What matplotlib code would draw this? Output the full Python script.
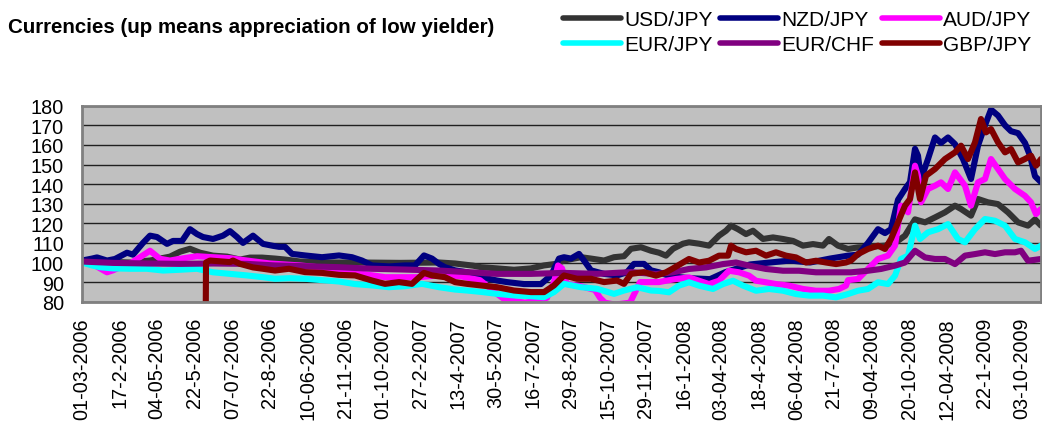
import numpy as np
import matplotlib
matplotlib.use("Agg")
import matplotlib.pyplot as plt

plt.rcParams['font.family'] = ['Liberation Sans', 'DejaVu Sans']

# ---- data (x = trading-day index from 03-Jan-2006) ----
tick_labels = ["01-03-2006", "17-2-2006", "04-05-2006", "22-5-2006", "07-07-2006",
               "22-8-2006", "10-06-2006", "21-11-2006", "01-10-2007", "27-2-2007",
               "13-4-2007", "30-5-2007", "16-7-2007", "29-8-2007", "15-10-2007",
               "29-11-2007", "16-1-2008", "03-04-2008", "18-4-2008", "06-04-2008",
               "21-7-2008", "09-04-2008", "20-10-2008", "12-04-2008", "22-1-2009",
               "03-10-2009"]

usd_day = [0, 18, 48, 68, 88, 98, 108, 118, 131, 145, 158, 168, 180, 193, 203, 218, 248, 278, 318,
           357, 373, 391, 399, 415, 432, 449, 462, 474, 482, 499, 509, 522, 532, 542, 549, 559, 569,
           577, 584, 591, 601, 607, 617, 627, 637, 644, 649, 656, 664, 671, 681, 691, 701, 711, 721,
           731, 741, 747, 756, 766, 776, 788, 803, 813, 823, 833, 843, 853, 863, 873, 879, 889, 896,
           906, 916, 926, 936, 946, 953, 959]
usd_val = [100, 100.5, 100, 101, 103, 105.5, 107, 105, 103.5, 103, 101.5, 102.5, 102.5, 102, 101.5,
           100.5, 100, 100, 99.8, 100, 99.5, 98.4, 97.6, 97, 96.3, 97, 98.5, 99.3, 101, 102.7, 102,
           101, 102.7, 103.2, 107, 107.8, 106, 105, 103.5, 107, 109.6, 110.3, 109.6, 108.6, 113.7,
           116.2, 118.8, 117, 114.5, 116.2, 112, 112.8, 112, 111, 108.6, 109.4, 108.6, 112, 108.6,
           106.9, 107.7, 108, 108.6, 110, 113.7, 122, 120.5, 123, 125.6, 129, 127.3, 123.9, 132.4,
           130.7, 129.8, 125.6, 120.5, 118.8, 122, 118.8]

nzd_day = [0, 10, 15, 25, 33, 45, 51, 61, 68, 75, 85, 91, 100, 108, 115, 121, 131, 141, 148, 155,
           161, 171, 181, 191, 197, 203, 210, 223, 240, 257, 270, 280, 290, 307, 323, 333, 342, 350,
           357, 363, 373, 385, 399, 415, 425, 442, 459, 469, 477, 482, 489, 497, 502, 509, 522, 535,
           545, 552, 562, 569, 577, 588, 608, 628, 643, 668, 688, 708, 728, 748, 766, 776, 786, 796,
           803, 809, 816, 823, 828, 833, 836, 839, 846, 853, 859, 866, 873, 881, 889, 896, 903, 909,
           916, 923, 929, 936, 943, 948, 953, 959]
nzd_val = [101, 102, 102.6, 101, 101.8, 105, 104, 110, 113.7, 113, 109.5, 111, 111, 117, 114.5, 113,
           112, 113.7, 116, 113, 110, 113.7, 109.5, 108.5, 108, 108, 104.4, 103.6, 102.7, 103.6,
           102.7, 101, 98.5, 98, 98.5, 98.5, 103.6, 102, 99.3, 97.6, 96, 95, 92.5, 90.8, 90, 89, 89,
           93.4, 102, 102.7, 102, 104.4, 101, 96, 94.2, 93.4, 95, 99.3, 99.3, 96, 95, 93, 92, 91.5,
           95, 99, 100, 101, 100, 102, 103.5, 104, 110, 117, 115, 117, 132, 137.5, 141, 158, 154.5,
           142.6, 152.8, 163.8, 161, 163.8, 160.4, 152.8, 142.6, 159.6, 170, 178, 175, 170, 167,
           166, 161, 154.5, 144, 141]

aud_day = [0, 10, 18, 25, 31, 38, 48, 58, 68, 78, 88, 98, 115, 131, 148, 165, 188, 218, 248, 280,
           303, 337, 358, 378, 398, 415, 423, 443, 455, 465, 472, 476, 480, 485, 498, 513, 518, 523,
           533, 548, 558, 577, 584, 594, 607, 617, 627, 637, 647, 657, 667, 674, 684, 694, 707, 721,
           734, 747, 757, 764, 766, 776, 786, 796, 806, 813, 819, 826, 833, 836, 839, 846, 853, 859,
           866, 873, 883, 889, 896, 903, 909, 916, 923, 933, 943, 949, 954, 959]
aud_val = [100, 99.5, 97, 95, 96, 97.6, 99.5, 102.7, 106, 101.9, 101, 101.9, 103.2, 102.7, 102.2,
           101, 99.5, 98.5, 97, 94.2, 92.5, 92.5, 93.5, 93, 91, 84, 81, 79.5, 80.5, 82, 90, 98.5, 97,
           89, 88, 86, 82, 79.5, 78.5, 79.5, 90, 90, 90.7, 91.6, 92.4, 90.7, 89, 90.7, 95.8, 95, 93.3,
           90.7, 89.9, 89, 88.2, 86.5, 85.6, 85.6, 86.5, 88.2, 91, 91.6, 96.7, 101.8, 103.5, 108.6,
           129, 125.6, 149.4, 144.3, 130.7, 137.5, 139.2, 140.9, 137.5, 146, 139.2, 129, 140.9,
           142.6, 152.8, 147.7, 142.6, 137.5, 134, 130.7, 124.7, 127.3]

eurjpy_day = [0, 10, 18, 31, 48, 65, 81, 98, 115, 131, 148, 165, 181, 193, 208, 223, 240, 257, 273,
              290, 307, 323, 340, 357, 373, 385, 399, 415, 432, 449, 462, 472, 482, 499, 515, 532,
              542, 555, 569, 577, 587, 597, 607, 617, 631, 641, 651, 661, 674, 687, 701, 714, 727,
              741, 754, 766, 776, 786, 796, 806, 813, 819, 826, 833, 838, 846, 856, 866, 876, 883,
              893, 903, 913, 923, 933, 943, 953, 959]
eurjpy_val = [100, 98.5, 97.6, 97, 96.8, 96.8, 95.9, 96.3, 96.8, 95, 94.2, 93.4, 92.5, 91.7, 92,
              91.7, 91, 90.3, 89, 88.3, 87.4, 87.9, 89.1, 87.4, 86.2, 85.7, 85, 84, 83.2, 82.8, 82.3,
              84.9, 89.1, 87.4, 86.6, 84, 85.7, 87.4, 85.7, 85.5, 84.8, 88.2, 89.9, 88.2, 86.5, 89,
              90.7, 88.2, 85.6, 86.5, 85.6, 83.9, 83.1, 83.1, 82.2, 83.9, 85.6, 86.5, 89.9, 89, 93.3,
              101.8, 103.5, 118.8, 112, 115.4, 117, 119.6, 112, 110.3, 117, 122.2, 121.3, 118.8, 112,
              110.3, 106.9, 108.6]

eurchf_day = [0, 31, 65, 98, 131, 165, 193, 223, 257, 290, 323, 357, 385, 415, 449, 482, 515, 549,
              574, 591, 607, 624, 641, 654, 667, 684, 701, 717, 734, 751, 769, 786, 799, 813, 823,
              833, 843, 853, 863, 873, 883, 893, 903, 913, 923, 933, 939, 946, 959]
eurchf_val = [100.5, 99.8, 99.5, 99.3, 99.5, 99.3, 98.5, 98.1, 97.6, 96.8, 96.4, 95.9, 95.1, 94.2,
              94.2, 94.7, 94.2, 95.1, 94.1, 95, 96.7, 97.5, 99.2, 100, 98.4, 96.7, 95.8, 95.8, 95, 95,
              95, 95.8, 96.7, 98.4, 100, 106, 102.6, 101.8, 101.8, 99.2, 103.5, 104.3, 105.2, 104.3,
              105.2, 105.2, 106, 100.9, 101.8]

gbp_day = [0, 123, 124, 128, 148, 151, 158, 171, 181, 193, 207, 223, 240, 257, 273, 290, 303, 317,
           330, 342, 350, 363, 373, 385, 399, 415, 432, 449, 462, 472, 482, 495, 509, 522, 535, 542,
           549, 562, 574, 584, 591, 601, 607, 617, 627, 637, 646, 649, 654, 664, 674, 684, 694, 704,
           714, 724, 734, 744, 754, 764, 769, 776, 786, 796, 803, 809, 816, 823, 828, 833, 838, 844,
           853, 863, 873, 879, 886, 893, 899, 904, 909, 916, 923, 929, 936, 943, 949, 954, 959]
gbp_val = [0, 0, 100, 101, 100.2, 101, 99.3, 97.5, 96.8, 95.9, 96.8, 95.1, 94.7, 93.7, 93.4, 90.8,
           89.1, 90, 89.1, 94.7, 93.4, 92.5, 90, 89.1, 88.3, 87.4, 85.7, 84.9, 84.9, 88.3, 93.4,
           91.7, 91.7, 90, 90.8, 89.1, 94.2, 95.1, 93.3, 95, 97, 100, 101.8, 100, 100.9, 103.5,
           103.5, 108.6, 106.9, 105.2, 106, 103.5, 105.2, 103.5, 102.6, 100, 100.9, 100, 99.2, 100,
           101, 104.3, 106.9, 108.6, 106.9, 112, 120.5, 129, 132.4, 146, 132.4, 144.3, 147.7, 152.8,
           156.2, 159.6, 152.8, 161.3, 173.2, 166.4, 168.1, 161.3, 156.2, 157.9, 151.1, 152.8,
           154.5, 149.4, 152.8]

series = [
    ("USD/JPY", usd_day, usd_val, "#333333"),
    ("NZD/JPY", nzd_day, nzd_val, "#000080"),
    ("AUD/JPY", aud_day, aud_val, "#FF00FF"),
    ("EUR/JPY", eurjpy_day, eurjpy_val, "#00FFFF"),
    ("EUR/CHF", eurchf_day, eurchf_val, "#800080"),
    ("GBP/JPY", gbp_day, gbp_val, "#800000"),
]

W, H = 1042, 427
fig = plt.figure(figsize=(W / 100, H / 100), dpi=100)
ax = fig.add_axes([82 / W, 1 - 302.7 / H, 959 / W, 196 / H])
ax.set_facecolor("#C0C0C0")

handles = {}
for name, d, v, c in series:
    ln, = ax.plot(d, v, color=c, lw=4.4, solid_joinstyle="round", solid_capstyle="round",
                  label=name)
    handles[name] = ln

ax.set_xlim(0, 959)
ax.set_ylim(80, 180)
ax.set_yticks(np.arange(80, 181, 10))
ax.set_xticks(np.linspace(0, 940, len(tick_labels)))
ax.set_xticklabels(tick_labels, rotation=90)
ax.tick_params(axis="both", length=0, labelsize=14.3, colors="black")
ax.tick_params(axis="y", pad=13)
ax.tick_params(axis="x", pad=11)
ax.yaxis.grid(True, color="#202020", lw=1.0)
ax.set_axisbelow(True)
for s in ax.spines.values():
    s.set_color("#808080")
    s.set_linewidth(2)

fig.text(8 / W, 1 - 33 / H, "Currencies (up means appreciation of low yielder)",
         fontsize=14.8, fontweight="bold", va="baseline", ha="left")

order = ["USD/JPY", "EUR/JPY", "NZD/JPY", "EUR/CHF", "AUD/JPY", "GBP/JPY"]
leg = fig.legend([handles[n] for n in order], order, loc="upper left",
                 bbox_to_anchor=(563 / W, 1 - 11 / H), ncol=3, frameon=False,
                 fontsize=15, handlelength=2.8, handletextpad=0.15, columnspacing=0.35,
                 labelspacing=0.3, borderpad=0, borderaxespad=0)
for l in leg.get_lines():
    l.set_linewidth(4)

fig.savefig("out.png", dpi=100)
